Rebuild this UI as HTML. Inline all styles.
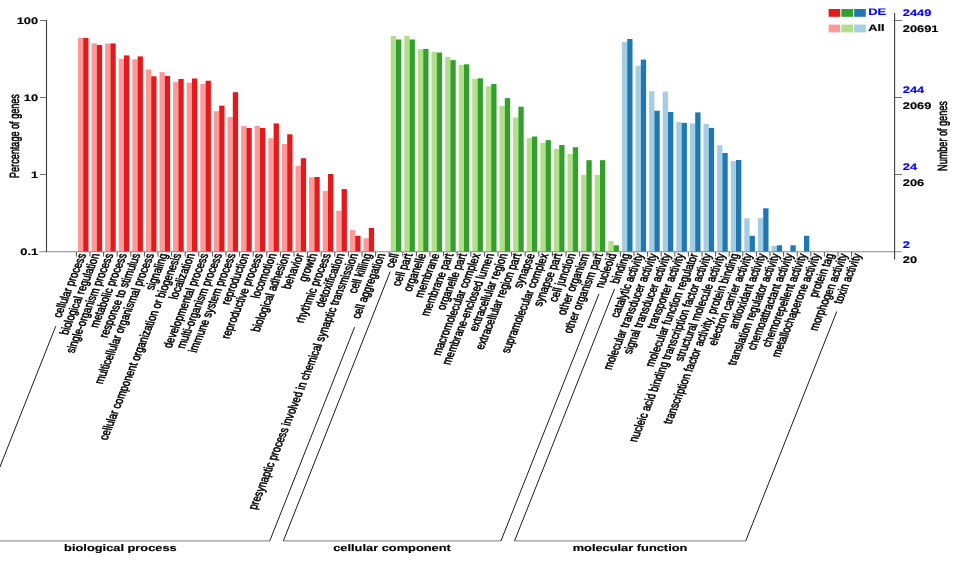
<!DOCTYPE html>
<html><head><meta charset="utf-8"><title>GO classification</title>
<style>html,body{margin:0;padding:0;background:#fff}svg{display:block}</style></head>
<body>
<svg width="957" height="588" viewBox="0 0 957 588" font-family="'Liberation Sans', Arial, Helvetica, sans-serif" text-rendering="geometricPrecision">
<rect width="957" height="588" fill="#fff"/>
<g shape-rendering="auto">
<rect x="77.90" y="38.0" width="5.3" height="214.0" fill="#FB9A99"/>
<rect x="83.20" y="37.9" width="5.3" height="214.1" fill="#E31A1C"/>
<rect x="91.50" y="43.4" width="5.3" height="208.6" fill="#FB9A99"/>
<rect x="96.80" y="44.9" width="5.3" height="207.1" fill="#E31A1C"/>
<rect x="105.10" y="43.5" width="5.3" height="208.5" fill="#FB9A99"/>
<rect x="110.40" y="43.4" width="5.3" height="208.6" fill="#E31A1C"/>
<rect x="118.70" y="58.8" width="5.3" height="193.2" fill="#FB9A99"/>
<rect x="124.00" y="55.4" width="5.3" height="196.6" fill="#E31A1C"/>
<rect x="132.30" y="59.3" width="5.3" height="192.7" fill="#FB9A99"/>
<rect x="137.60" y="56.4" width="5.3" height="195.6" fill="#E31A1C"/>
<rect x="145.90" y="69.5" width="5.3" height="182.5" fill="#FB9A99"/>
<rect x="151.20" y="76.3" width="5.3" height="175.7" fill="#E31A1C"/>
<rect x="159.50" y="72.1" width="5.3" height="179.9" fill="#FB9A99"/>
<rect x="164.80" y="76.0" width="5.3" height="176.0" fill="#E31A1C"/>
<rect x="173.10" y="82.0" width="5.3" height="170.0" fill="#FB9A99"/>
<rect x="178.40" y="79.0" width="5.3" height="173.0" fill="#E31A1C"/>
<rect x="186.70" y="82.7" width="5.3" height="169.3" fill="#FB9A99"/>
<rect x="192.00" y="78.5" width="5.3" height="173.5" fill="#E31A1C"/>
<rect x="200.30" y="84.0" width="5.3" height="168.0" fill="#FB9A99"/>
<rect x="205.60" y="80.7" width="5.3" height="171.3" fill="#E31A1C"/>
<rect x="213.90" y="111.2" width="5.3" height="140.8" fill="#FB9A99"/>
<rect x="219.20" y="105.7" width="5.3" height="146.3" fill="#E31A1C"/>
<rect x="227.50" y="117.1" width="5.3" height="134.9" fill="#FB9A99"/>
<rect x="232.80" y="92.2" width="5.3" height="159.8" fill="#E31A1C"/>
<rect x="241.10" y="126.0" width="5.3" height="126.0" fill="#FB9A99"/>
<rect x="246.40" y="128.0" width="5.3" height="124.0" fill="#E31A1C"/>
<rect x="254.70" y="126.0" width="5.3" height="126.0" fill="#FB9A99"/>
<rect x="260.00" y="128.0" width="5.3" height="124.0" fill="#E31A1C"/>
<rect x="268.30" y="138.2" width="5.3" height="113.8" fill="#FB9A99"/>
<rect x="273.60" y="123.4" width="5.3" height="128.6" fill="#E31A1C"/>
<rect x="281.90" y="144.0" width="5.3" height="108.0" fill="#FB9A99"/>
<rect x="287.20" y="134.3" width="5.3" height="117.7" fill="#E31A1C"/>
<rect x="295.50" y="165.8" width="5.3" height="86.2" fill="#FB9A99"/>
<rect x="300.80" y="158.2" width="5.3" height="93.8" fill="#E31A1C"/>
<rect x="309.10" y="177.2" width="5.3" height="74.8" fill="#FB9A99"/>
<rect x="314.40" y="177.0" width="5.3" height="75.0" fill="#E31A1C"/>
<rect x="322.70" y="191.1" width="5.3" height="60.9" fill="#FB9A99"/>
<rect x="328.00" y="174.0" width="5.3" height="78.0" fill="#E31A1C"/>
<rect x="336.30" y="210.7" width="5.3" height="41.3" fill="#FB9A99"/>
<rect x="341.60" y="189.1" width="5.3" height="62.9" fill="#E31A1C"/>
<rect x="349.90" y="230.1" width="5.3" height="21.9" fill="#FB9A99"/>
<rect x="355.20" y="235.8" width="5.3" height="16.2" fill="#E31A1C"/>
<rect x="363.50" y="238.3" width="5.3" height="13.7" fill="#FB9A99"/>
<rect x="368.80" y="227.9" width="5.3" height="24.1" fill="#E31A1C"/>
<rect x="390.70" y="36.0" width="5.3" height="216.0" fill="#B2DF8A"/>
<rect x="396.00" y="39.5" width="5.3" height="212.5" fill="#33A02C"/>
<rect x="404.30" y="36.0" width="5.3" height="216.0" fill="#B2DF8A"/>
<rect x="409.60" y="39.5" width="5.3" height="212.5" fill="#33A02C"/>
<rect x="417.90" y="49.2" width="5.3" height="202.8" fill="#B2DF8A"/>
<rect x="423.20" y="48.9" width="5.3" height="203.1" fill="#33A02C"/>
<rect x="431.50" y="51.9" width="5.3" height="200.1" fill="#B2DF8A"/>
<rect x="436.80" y="52.6" width="5.3" height="199.4" fill="#33A02C"/>
<rect x="445.10" y="56.9" width="5.3" height="195.1" fill="#B2DF8A"/>
<rect x="450.40" y="60.1" width="5.3" height="191.9" fill="#33A02C"/>
<rect x="458.70" y="64.8" width="5.3" height="187.2" fill="#B2DF8A"/>
<rect x="464.00" y="64.3" width="5.3" height="187.7" fill="#33A02C"/>
<rect x="472.30" y="78.7" width="5.3" height="173.3" fill="#B2DF8A"/>
<rect x="477.60" y="78.3" width="5.3" height="173.7" fill="#33A02C"/>
<rect x="485.90" y="86.2" width="5.3" height="165.8" fill="#B2DF8A"/>
<rect x="491.20" y="83.9" width="5.3" height="168.1" fill="#33A02C"/>
<rect x="499.50" y="105.9" width="5.3" height="146.1" fill="#B2DF8A"/>
<rect x="504.80" y="98.1" width="5.3" height="153.9" fill="#33A02C"/>
<rect x="513.10" y="117.5" width="5.3" height="134.5" fill="#B2DF8A"/>
<rect x="518.40" y="106.7" width="5.3" height="145.3" fill="#33A02C"/>
<rect x="526.70" y="138.2" width="5.3" height="113.8" fill="#B2DF8A"/>
<rect x="532.00" y="136.5" width="5.3" height="115.5" fill="#33A02C"/>
<rect x="540.30" y="142.8" width="5.3" height="109.2" fill="#B2DF8A"/>
<rect x="545.60" y="140.2" width="5.3" height="111.8" fill="#33A02C"/>
<rect x="553.90" y="149.0" width="5.3" height="103.0" fill="#B2DF8A"/>
<rect x="559.20" y="145.0" width="5.3" height="107.0" fill="#33A02C"/>
<rect x="567.50" y="154.0" width="5.3" height="98.0" fill="#B2DF8A"/>
<rect x="572.80" y="147.2" width="5.3" height="104.8" fill="#33A02C"/>
<rect x="581.10" y="174.9" width="5.3" height="77.1" fill="#B2DF8A"/>
<rect x="586.40" y="160.2" width="5.3" height="91.8" fill="#33A02C"/>
<rect x="594.70" y="174.9" width="5.3" height="77.1" fill="#B2DF8A"/>
<rect x="600.00" y="160.2" width="5.3" height="91.8" fill="#33A02C"/>
<rect x="608.30" y="240.9" width="5.3" height="11.1" fill="#B2DF8A"/>
<rect x="613.60" y="245.3" width="5.3" height="6.7" fill="#33A02C"/>
<rect x="621.90" y="41.9" width="5.3" height="210.1" fill="#A6CEE3"/>
<rect x="627.20" y="39.0" width="5.3" height="213.0" fill="#1F78B4"/>
<rect x="635.50" y="65.8" width="5.3" height="186.2" fill="#A6CEE3"/>
<rect x="640.80" y="59.6" width="5.3" height="192.4" fill="#1F78B4"/>
<rect x="649.10" y="91.2" width="5.3" height="160.8" fill="#A6CEE3"/>
<rect x="654.40" y="110.8" width="5.3" height="141.2" fill="#1F78B4"/>
<rect x="662.70" y="91.6" width="5.3" height="160.4" fill="#A6CEE3"/>
<rect x="668.00" y="112.0" width="5.3" height="140.0" fill="#1F78B4"/>
<rect x="676.30" y="122.1" width="5.3" height="129.9" fill="#A6CEE3"/>
<rect x="681.60" y="122.9" width="5.3" height="129.1" fill="#1F78B4"/>
<rect x="689.90" y="123.4" width="5.3" height="128.6" fill="#A6CEE3"/>
<rect x="695.20" y="112.4" width="5.3" height="139.6" fill="#1F78B4"/>
<rect x="703.50" y="123.9" width="5.3" height="128.1" fill="#A6CEE3"/>
<rect x="708.80" y="127.9" width="5.3" height="124.1" fill="#1F78B4"/>
<rect x="717.10" y="145.2" width="5.3" height="106.8" fill="#A6CEE3"/>
<rect x="722.40" y="153.0" width="5.3" height="99.0" fill="#1F78B4"/>
<rect x="730.70" y="161.0" width="5.3" height="91.0" fill="#A6CEE3"/>
<rect x="736.00" y="160.0" width="5.3" height="92.0" fill="#1F78B4"/>
<rect x="744.30" y="218.2" width="5.3" height="33.8" fill="#A6CEE3"/>
<rect x="749.60" y="235.8" width="5.3" height="16.2" fill="#1F78B4"/>
<rect x="757.90" y="218.2" width="5.3" height="33.8" fill="#A6CEE3"/>
<rect x="763.20" y="208.3" width="5.3" height="43.7" fill="#1F78B4"/>
<rect x="771.50" y="245.8" width="5.3" height="6.2" fill="#A6CEE3"/>
<rect x="776.80" y="245.3" width="5.3" height="6.7" fill="#1F78B4"/>
<rect x="790.40" y="245.3" width="5.3" height="6.7" fill="#1F78B4"/>
<rect x="804.00" y="235.8" width="5.3" height="16.2" fill="#1F78B4"/>
</g>
<line x1="39.2" y1="251.8" x2="901.9" y2="251.8" stroke="#8a8a8a" stroke-width="1.1"/>
<g stroke="#4a4a4a" stroke-width="0.95" fill="none">
<line x1="76.40" y1="252.0" x2="76.40" y2="256.6"/>
<line x1="90.00" y1="252.0" x2="90.00" y2="256.6"/>
<line x1="103.60" y1="252.0" x2="103.60" y2="256.6"/>
<line x1="117.20" y1="252.0" x2="117.20" y2="256.6"/>
<line x1="130.80" y1="252.0" x2="130.80" y2="256.6"/>
<line x1="144.40" y1="252.0" x2="144.40" y2="256.6"/>
<line x1="158.00" y1="252.0" x2="158.00" y2="256.6"/>
<line x1="171.60" y1="252.0" x2="171.60" y2="256.6"/>
<line x1="185.20" y1="252.0" x2="185.20" y2="256.6"/>
<line x1="198.80" y1="252.0" x2="198.80" y2="256.6"/>
<line x1="212.40" y1="252.0" x2="212.40" y2="256.6"/>
<line x1="226.00" y1="252.0" x2="226.00" y2="256.6"/>
<line x1="239.60" y1="252.0" x2="239.60" y2="256.6"/>
<line x1="253.20" y1="252.0" x2="253.20" y2="256.6"/>
<line x1="266.80" y1="252.0" x2="266.80" y2="256.6"/>
<line x1="280.40" y1="252.0" x2="280.40" y2="256.6"/>
<line x1="294.00" y1="252.0" x2="294.00" y2="256.6"/>
<line x1="307.60" y1="252.0" x2="307.60" y2="256.6"/>
<line x1="321.20" y1="252.0" x2="321.20" y2="256.6"/>
<line x1="334.80" y1="252.0" x2="334.80" y2="256.6"/>
<line x1="348.40" y1="252.0" x2="348.40" y2="256.6"/>
<line x1="362.00" y1="252.0" x2="362.00" y2="256.6"/>
<line x1="375.60" y1="252.0" x2="375.60" y2="256.6"/>
<line x1="389.20" y1="252.0" x2="389.20" y2="256.6"/>
<line x1="402.80" y1="252.0" x2="402.80" y2="256.6"/>
<line x1="416.40" y1="252.0" x2="416.40" y2="256.6"/>
<line x1="430.00" y1="252.0" x2="430.00" y2="256.6"/>
<line x1="443.60" y1="252.0" x2="443.60" y2="256.6"/>
<line x1="457.20" y1="252.0" x2="457.20" y2="256.6"/>
<line x1="470.80" y1="252.0" x2="470.80" y2="256.6"/>
<line x1="484.40" y1="252.0" x2="484.40" y2="256.6"/>
<line x1="498.00" y1="252.0" x2="498.00" y2="256.6"/>
<line x1="511.60" y1="252.0" x2="511.60" y2="256.6"/>
<line x1="525.20" y1="252.0" x2="525.20" y2="256.6"/>
<line x1="538.80" y1="252.0" x2="538.80" y2="256.6"/>
<line x1="552.40" y1="252.0" x2="552.40" y2="256.6"/>
<line x1="566.00" y1="252.0" x2="566.00" y2="256.6"/>
<line x1="579.60" y1="252.0" x2="579.60" y2="256.6"/>
<line x1="593.20" y1="252.0" x2="593.20" y2="256.6"/>
<line x1="606.80" y1="252.0" x2="606.80" y2="256.6"/>
<line x1="620.40" y1="252.0" x2="620.40" y2="256.6"/>
<line x1="634.00" y1="252.0" x2="634.00" y2="256.6"/>
<line x1="647.60" y1="252.0" x2="647.60" y2="256.6"/>
<line x1="661.20" y1="252.0" x2="661.20" y2="256.6"/>
<line x1="674.80" y1="252.0" x2="674.80" y2="256.6"/>
<line x1="688.40" y1="252.0" x2="688.40" y2="256.6"/>
<line x1="702.00" y1="252.0" x2="702.00" y2="256.6"/>
<line x1="715.60" y1="252.0" x2="715.60" y2="256.6"/>
<line x1="729.20" y1="252.0" x2="729.20" y2="256.6"/>
<line x1="742.80" y1="252.0" x2="742.80" y2="256.6"/>
<line x1="756.40" y1="252.0" x2="756.40" y2="256.6"/>
<line x1="770.00" y1="252.0" x2="770.00" y2="256.6"/>
<line x1="783.60" y1="252.0" x2="783.60" y2="256.6"/>
<line x1="797.20" y1="252.0" x2="797.20" y2="256.6"/>
<line x1="810.80" y1="252.0" x2="810.80" y2="256.6"/>
<line x1="824.40" y1="252.0" x2="824.40" y2="256.6"/>
<line x1="838.00" y1="252.0" x2="838.00" y2="256.6"/>
<line x1="851.60" y1="252.0" x2="851.60" y2="256.6"/>
</g>
<g stroke="#707070" stroke-width="1" fill="none">
<line x1="40" y1="20.5" x2="46.5" y2="20.5"/>
<line x1="894.5" y1="20.5" x2="901.8" y2="20.5"/>
<line x1="40" y1="97.5" x2="46.5" y2="97.5"/>
<line x1="894.5" y1="97.5" x2="901.8" y2="97.5"/>
<line x1="40" y1="174.5" x2="46.5" y2="174.5"/>
<line x1="894.5" y1="174.5" x2="901.8" y2="174.5"/>
</g>
<g stroke="#3c3c3c" stroke-width="1.1" fill="none">
<line x1="46.5" y1="20" x2="46.5" y2="252.0"/>
<line x1="894.6" y1="12.9" x2="894.6" y2="259.5"/>
</g>
<text transform="translate(38.10,23.90) scale(1.35,1)" font-size="9.5" font-weight="bold" text-anchor="end" fill="#000" stroke="#000" stroke-width="0.15">100</text>
<text transform="translate(38.10,100.90) scale(1.35,1)" font-size="9.5" font-weight="bold" text-anchor="end" fill="#000" stroke="#000" stroke-width="0.15">10</text>
<text transform="translate(38.10,177.90) scale(1.35,1)" font-size="9.5" font-weight="bold" text-anchor="end" fill="#000" stroke="#000" stroke-width="0.15">1</text>
<text transform="translate(38.10,254.90) scale(1.35,1)" font-size="9.5" font-weight="bold" text-anchor="end" fill="#000" stroke="#000" stroke-width="0.15">0.1</text>
<text transform="translate(902.80,16.00) scale(1.35,1)" font-size="9.5" font-weight="bold" text-anchor="start" fill="#0000FF" stroke="#0000FF" stroke-width="0.15">2449</text>
<text transform="translate(902.80,31.70) scale(1.35,1)" font-size="9.5" font-weight="bold" text-anchor="start" fill="#000" stroke="#000" stroke-width="0.15">20691</text>
<text transform="translate(902.80,93.00) scale(1.35,1)" font-size="9.5" font-weight="bold" text-anchor="start" fill="#0000FF" stroke="#0000FF" stroke-width="0.15">244</text>
<text transform="translate(902.80,108.70) scale(1.35,1)" font-size="9.5" font-weight="bold" text-anchor="start" fill="#000" stroke="#000" stroke-width="0.15">2069</text>
<text transform="translate(902.80,170.00) scale(1.35,1)" font-size="9.5" font-weight="bold" text-anchor="start" fill="#0000FF" stroke="#0000FF" stroke-width="0.15">24</text>
<text transform="translate(902.80,185.70) scale(1.35,1)" font-size="9.5" font-weight="bold" text-anchor="start" fill="#000" stroke="#000" stroke-width="0.15">206</text>
<text transform="translate(902.80,247.50) scale(1.35,1)" font-size="9.5" font-weight="bold" text-anchor="start" fill="#0000FF" stroke="#0000FF" stroke-width="0.15">2</text>
<text transform="translate(902.80,263.20) scale(1.35,1)" font-size="9.5" font-weight="bold" text-anchor="start" fill="#000" stroke="#000" stroke-width="0.15">20</text>
<text transform="translate(18.7,136.05) scale(1.47,1) rotate(-90)" font-size="9.11" text-anchor="middle" stroke="#000" stroke-width="0.4">Percentage of genes</text>
<text transform="translate(946.5,136.05) scale(1.47,1) rotate(-90)" font-size="9.11" text-anchor="middle" stroke="#000" stroke-width="0.4">Number of genes</text>
<rect x="828.6" y="9" width="11.6" height="7.8" fill="#E31A1C"/>
<rect x="828.6" y="24.6" width="11.6" height="7.8" fill="#FB9A99"/>
<rect x="841.4" y="9" width="11.6" height="7.8" fill="#33A02C"/>
<rect x="841.4" y="24.6" width="11.6" height="7.8" fill="#B2DF8A"/>
<rect x="854.2" y="9" width="11.6" height="7.8" fill="#1F78B4"/>
<rect x="854.2" y="24.6" width="11.6" height="7.8" fill="#A6CEE3"/>
<text transform="translate(868.20,15.20) scale(1.35,1)" font-size="9.5" font-weight="bold" text-anchor="start" fill="#0000FF" stroke="#0000FF" stroke-width="0.15">DE</text>
<text transform="translate(868.20,30.80) scale(1.35,1)" font-size="9.5" font-weight="bold" text-anchor="start" fill="#000" stroke="#000" stroke-width="0.15">All</text>
<text transform="matrix(0.3841,-0.9624,1.30,0.24,86.30,254.50)" font-size="9.5" text-anchor="end" stroke="#000" stroke-width="0.42">cellular process</text>
<text transform="matrix(0.3841,-0.9624,1.30,0.24,99.90,254.50)" font-size="9.5" text-anchor="end" stroke="#000" stroke-width="0.42">biological regulation</text>
<text transform="matrix(0.3841,-0.9624,1.30,0.24,113.50,254.50)" font-size="9.5" text-anchor="end" stroke="#000" stroke-width="0.42">single-organism process</text>
<text transform="matrix(0.3841,-0.9624,1.30,0.24,127.10,254.50)" font-size="9.5" text-anchor="end" stroke="#000" stroke-width="0.42">metabolic process</text>
<text transform="matrix(0.3841,-0.9624,1.30,0.24,140.70,254.50)" font-size="9.5" text-anchor="end" stroke="#000" stroke-width="0.42">response to stimulus</text>
<text transform="matrix(0.3841,-0.9624,1.30,0.24,154.30,254.50)" font-size="9.5" text-anchor="end" stroke="#000" stroke-width="0.42">multicellular organismal process</text>
<text transform="matrix(0.3841,-0.9624,1.30,0.24,167.90,254.50)" font-size="9.5" text-anchor="end" stroke="#000" stroke-width="0.42">signaling</text>
<text transform="matrix(0.3841,-0.9624,1.30,0.24,181.50,254.50)" font-size="9.5" text-anchor="end" stroke="#000" stroke-width="0.42">cellular component organization or biogenesis</text>
<text transform="matrix(0.3841,-0.9624,1.30,0.24,195.10,254.50)" font-size="9.5" text-anchor="end" stroke="#000" stroke-width="0.42">localization</text>
<text transform="matrix(0.3841,-0.9624,1.30,0.24,208.70,254.50)" font-size="9.5" text-anchor="end" stroke="#000" stroke-width="0.42">developmental process</text>
<text transform="matrix(0.3841,-0.9624,1.30,0.24,222.30,254.50)" font-size="9.5" text-anchor="end" stroke="#000" stroke-width="0.42">multi-organism process</text>
<text transform="matrix(0.3841,-0.9624,1.30,0.24,235.90,254.50)" font-size="9.5" text-anchor="end" stroke="#000" stroke-width="0.42">immune system process</text>
<text transform="matrix(0.3841,-0.9624,1.30,0.24,249.50,254.50)" font-size="9.5" text-anchor="end" stroke="#000" stroke-width="0.42">reproduction</text>
<text transform="matrix(0.3841,-0.9624,1.30,0.24,263.10,254.50)" font-size="9.5" text-anchor="end" stroke="#000" stroke-width="0.42">reproductive process</text>
<text transform="matrix(0.3841,-0.9624,1.30,0.24,276.70,254.50)" font-size="9.5" text-anchor="end" stroke="#000" stroke-width="0.42">locomotion</text>
<text transform="matrix(0.3841,-0.9624,1.30,0.24,290.30,254.50)" font-size="9.5" text-anchor="end" stroke="#000" stroke-width="0.42">biological adhesion</text>
<text transform="matrix(0.3841,-0.9624,1.30,0.24,303.90,254.50)" font-size="9.5" text-anchor="end" stroke="#000" stroke-width="0.42">behavior</text>
<text transform="matrix(0.3841,-0.9624,1.30,0.24,317.50,254.50)" font-size="9.5" text-anchor="end" stroke="#000" stroke-width="0.42">growth</text>
<text transform="matrix(0.3841,-0.9624,1.30,0.24,331.10,254.50)" font-size="9.5" text-anchor="end" stroke="#000" stroke-width="0.42">rhythmic process</text>
<text transform="matrix(0.3841,-0.9624,1.30,0.24,344.70,254.50)" font-size="9.5" text-anchor="end" stroke="#000" stroke-width="0.42">detoxification</text>
<text transform="matrix(0.3841,-0.9624,1.30,0.24,358.30,254.50)" font-size="9.5" text-anchor="end" stroke="#000" stroke-width="0.42">presynaptic process involved in chemical synaptic transmission</text>
<text transform="matrix(0.3841,-0.9624,1.30,0.24,371.90,254.50)" font-size="9.5" text-anchor="end" stroke="#000" stroke-width="0.42">cell killing</text>
<text transform="matrix(0.3841,-0.9624,1.30,0.24,385.50,254.50)" font-size="9.5" text-anchor="end" stroke="#000" stroke-width="0.42">cell aggregation</text>
<text transform="matrix(0.3841,-0.9624,1.30,0.24,399.10,254.50)" font-size="9.5" text-anchor="end" stroke="#000" stroke-width="0.42">cell</text>
<text transform="matrix(0.3841,-0.9624,1.30,0.24,412.70,254.50)" font-size="9.5" text-anchor="end" stroke="#000" stroke-width="0.42">cell part</text>
<text transform="matrix(0.3841,-0.9624,1.30,0.24,426.30,254.50)" font-size="9.5" text-anchor="end" stroke="#000" stroke-width="0.42">organelle</text>
<text transform="matrix(0.3841,-0.9624,1.30,0.24,439.90,254.50)" font-size="9.5" text-anchor="end" stroke="#000" stroke-width="0.42">membrane</text>
<text transform="matrix(0.3841,-0.9624,1.30,0.24,453.50,254.50)" font-size="9.5" text-anchor="end" stroke="#000" stroke-width="0.42">membrane part</text>
<text transform="matrix(0.3841,-0.9624,1.30,0.24,467.10,254.50)" font-size="9.5" text-anchor="end" stroke="#000" stroke-width="0.42">organelle part</text>
<text transform="matrix(0.3841,-0.9624,1.30,0.24,480.70,254.50)" font-size="9.5" text-anchor="end" stroke="#000" stroke-width="0.42">macromolecular complex</text>
<text transform="matrix(0.3841,-0.9624,1.30,0.24,494.30,254.50)" font-size="9.5" text-anchor="end" stroke="#000" stroke-width="0.42">membrane-enclosed lumen</text>
<text transform="matrix(0.3841,-0.9624,1.30,0.24,507.90,254.50)" font-size="9.5" text-anchor="end" stroke="#000" stroke-width="0.42">extracellular region</text>
<text transform="matrix(0.3841,-0.9624,1.30,0.24,521.50,254.50)" font-size="9.5" text-anchor="end" stroke="#000" stroke-width="0.42">extracellular region part</text>
<text transform="matrix(0.3841,-0.9624,1.30,0.24,535.10,254.50)" font-size="9.5" text-anchor="end" stroke="#000" stroke-width="0.42">synapse</text>
<text transform="matrix(0.3841,-0.9624,1.30,0.24,548.70,254.50)" font-size="9.5" text-anchor="end" stroke="#000" stroke-width="0.42">supramolecular complex</text>
<text transform="matrix(0.3841,-0.9624,1.30,0.24,562.30,254.50)" font-size="9.5" text-anchor="end" stroke="#000" stroke-width="0.42">synapse part</text>
<text transform="matrix(0.3841,-0.9624,1.30,0.24,575.90,254.50)" font-size="9.5" text-anchor="end" stroke="#000" stroke-width="0.42">cell junction</text>
<text transform="matrix(0.3841,-0.9624,1.30,0.24,589.50,254.50)" font-size="9.5" text-anchor="end" stroke="#000" stroke-width="0.42">other organism</text>
<text transform="matrix(0.3841,-0.9624,1.30,0.24,603.10,254.50)" font-size="9.5" text-anchor="end" stroke="#000" stroke-width="0.42">other organism part</text>
<text transform="matrix(0.3841,-0.9624,1.30,0.24,616.70,254.50)" font-size="9.5" text-anchor="end" stroke="#000" stroke-width="0.42">nucleoid</text>
<text transform="matrix(0.3841,-0.9624,1.30,0.24,630.30,254.50)" font-size="9.5" text-anchor="end" stroke="#000" stroke-width="0.42">binding</text>
<text transform="matrix(0.3841,-0.9624,1.30,0.24,643.90,254.50)" font-size="9.5" text-anchor="end" stroke="#000" stroke-width="0.42">catalytic activity</text>
<text transform="matrix(0.3841,-0.9624,1.30,0.24,657.50,254.50)" font-size="9.5" text-anchor="end" stroke="#000" stroke-width="0.42">molecular transducer activity</text>
<text transform="matrix(0.3841,-0.9624,1.30,0.24,671.10,254.50)" font-size="9.5" text-anchor="end" stroke="#000" stroke-width="0.42">signal transducer activity</text>
<text transform="matrix(0.3841,-0.9624,1.30,0.24,684.70,254.50)" font-size="9.5" text-anchor="end" stroke="#000" stroke-width="0.42">transporter activity</text>
<text transform="matrix(0.3841,-0.9624,1.30,0.24,698.30,254.50)" font-size="9.5" text-anchor="end" stroke="#000" stroke-width="0.42">molecular function regulator</text>
<text transform="matrix(0.3841,-0.9624,1.30,0.24,711.90,254.50)" font-size="9.5" text-anchor="end" stroke="#000" stroke-width="0.42">nucleic acid binding transcription factor activity</text>
<text transform="matrix(0.3841,-0.9624,1.30,0.24,725.50,254.50)" font-size="9.5" text-anchor="end" stroke="#000" stroke-width="0.42">structural molecule activity</text>
<text transform="matrix(0.3841,-0.9624,1.30,0.24,739.10,254.50)" font-size="9.5" text-anchor="end" stroke="#000" stroke-width="0.42">transcription factor activity, protein binding</text>
<text transform="matrix(0.3841,-0.9624,1.30,0.24,752.70,254.50)" font-size="9.5" text-anchor="end" stroke="#000" stroke-width="0.42">electron carrier activity</text>
<text transform="matrix(0.3841,-0.9624,1.30,0.24,766.30,254.50)" font-size="9.5" text-anchor="end" stroke="#000" stroke-width="0.42">antioxidant activity</text>
<text transform="matrix(0.3841,-0.9624,1.30,0.24,779.90,254.50)" font-size="9.5" text-anchor="end" stroke="#000" stroke-width="0.42">translation regulator activity</text>
<text transform="matrix(0.3841,-0.9624,1.30,0.24,793.50,254.50)" font-size="9.5" text-anchor="end" stroke="#000" stroke-width="0.42">chemoattractant activity</text>
<text transform="matrix(0.3841,-0.9624,1.30,0.24,807.10,254.50)" font-size="9.5" text-anchor="end" stroke="#000" stroke-width="0.42">chemorepellent activity</text>
<text transform="matrix(0.3841,-0.9624,1.30,0.24,820.70,254.50)" font-size="9.5" text-anchor="end" stroke="#000" stroke-width="0.42">metallochaperone activity</text>
<text transform="matrix(0.3841,-0.9624,1.30,0.24,834.30,254.50)" font-size="9.5" text-anchor="end" stroke="#000" stroke-width="0.42">protein tag</text>
<text transform="matrix(0.3841,-0.9624,1.30,0.24,847.90,254.50)" font-size="9.5" text-anchor="end" stroke="#000" stroke-width="0.42">morphogen activity</text>
<text transform="matrix(0.3841,-0.9624,1.30,0.24,861.50,254.50)" font-size="9.5" text-anchor="end" stroke="#000" stroke-width="0.42">toxin activity</text>
<g stroke="#979797" stroke-width="1.2" fill="none">
<line x1="-29.44" y1="540.9" x2="269.76" y2="540.9"/>
<line x1="283.36" y1="540.9" x2="500.96" y2="540.9"/>
<line x1="514.56" y1="540.9" x2="745.76" y2="540.9"/>
</g>
<g stroke="#111" stroke-width="0.95" fill="none">
<line x1="55.76" y1="326.2" x2="-29.44" y2="540.9"/>
<line x1="354.60" y1="327.1" x2="269.76" y2="540.9"/>
<line x1="390.22" y1="271.6" x2="283.36" y2="540.9"/>
<line x1="599.01" y1="293.8" x2="500.96" y2="540.9"/>
<line x1="614.56" y1="288.9" x2="514.56" y2="540.9"/>
<line x1="836.79" y1="311.5" x2="745.76" y2="540.9"/>
</g>
<text transform="translate(120.40,550.80) scale(1.35,1)" font-size="9.5" font-weight="bold" text-anchor="middle" fill="#000" stroke="#000" stroke-width="0.15">biological process</text>
<text transform="translate(392.00,550.80) scale(1.35,1)" font-size="9.5" font-weight="bold" text-anchor="middle" fill="#000" stroke="#000" stroke-width="0.15">cellular component</text>
<text transform="translate(630.00,550.80) scale(1.35,1)" font-size="9.5" font-weight="bold" text-anchor="middle" fill="#000" stroke="#000" stroke-width="0.15">molecular function</text>
</svg>
</body></html>
